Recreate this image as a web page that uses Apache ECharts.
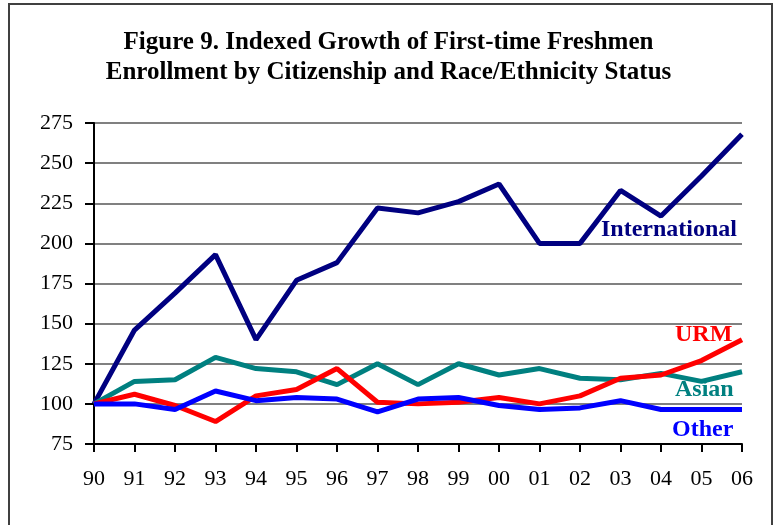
<!DOCTYPE html>
<html>
<head>
<meta charset="utf-8">
<script src="https://cdn.jsdelivr.net/npm/echarts@6/dist/echarts.min.js"></script>
<style>
  html, body { margin: 0; padding: 0; background: #fff; }
  #main { width: 777px; height: 525px; }
</style>
</head>
<body>
<div id="main"></div>
<script>
  // years, shown as two digits
  var years = ['90', '91', '92', '93', '94', '95', '96', '97', '98', '99', '00', '01', '02', '03', '04', '05', '06']
  // index values, 1990 = 100
  var international = [100, 146, 169, 193, 140, 177, 188, 222, 219, 226, 237, 200, 200, 233, 217, 242, 268]
  var asian = [100, 114, 115, 129, 122, 120, 112, 125, 112, 125, 118, 122, 116, 115, 119, 114, 120]
  var urm = [100, 106, 99, 89, 105, 109, 122, 101, 100, 101, 104, 100, 105, 116, 118, 127, 140]
  var other = [100, 100, 96.5, 108, 102, 104, 103, 95, 103, 104, 99, 96.5, 97.5, 102, 96.5, 96.5, 96.5]

  var serif = 'Liberation Serif'

  function lineSeries (name, data, color) {
    return {
      name: name,
      type: 'line',
      data: data,
      showSymbol: false,
      symbol: 'none',
      lineStyle: { color: color, width: 5 },
      itemStyle: { color: color },
      animation: false
    }
  }

  // series names written next to the lines
  function seriesLabel (text, x, y, color) {
    return {
      type: 'text',
      left: x,
      top: y,
      style: {
        text: text,
        fill: color,
        fontFamily: serif,
        fontWeight: 'bold',
        fontSize: 24
      }
    }
  }

  var chart = echarts.init(document.getElementById('main'))
  var options = {
    backgroundColor: '#fff',
    title: {
      text: 'Figure 9. Indexed Growth of First-time Freshmen\nEnrollment by Citizenship and Race/Ethnicity Status',
      left: 'center',
      top: 23,
      textStyle: {
        fontFamily: serif,
        fontWeight: 'bold',
        fontSize: 25,
        lineHeight: 30,
        color: '#000'
      }
    },
    grid: {
      left: 94,
      right: 35,
      top: 123,
      bottom: 81
    },
    xAxis: {
      type: 'category',
      data: years,
      boundaryGap: false,
      axisLine: { lineStyle: { color: '#000', width: 2 } },
      axisTick: { show: true, length: 8, lineStyle: { color: '#000', width: 2 } },
      axisLabel: {
        margin: 24,
        fontFamily: serif,
        fontSize: 22,
        color: '#000'
      },
      splitLine: { show: false }
    },
    yAxis: {
      type: 'value',
      min: 75,
      max: 275,
      interval: 25,
      axisLine: { show: true, lineStyle: { color: '#000', width: 2 } },
      axisTick: { show: true, length: 9, lineStyle: { color: '#000', width: 2 } },
      axisLabel: {
        margin: 21,
        fontFamily: serif,
        fontSize: 22,
        color: '#000'
      },
      splitLine: { show: true, lineStyle: { color: '#808080', width: 2 } }
    },
    series: [
      lineSeries('International', international, '#000080'),
      lineSeries('Asian', asian, '#008080'),
      lineSeries('URM', urm, '#ff0000'),
      lineSeries('Other', other, '#0000ff')
    ],
    graphic: [
      {
        type: 'rect',
        shape: { x: 9, y: 4, width: 763, height: 530 },
        style: { fill: 'none', stroke: '#404040', lineWidth: 2 },
        silent: true
      },
      seriesLabel('International', 601, 218, '#000080'),
      seriesLabel('URM', 675, 323, '#ff0000'),
      seriesLabel('Asian', 675, 378, '#008080'),
      seriesLabel('Other', 672, 418, '#0000ff')
    ]
  }
  chart.setOption(options)
</script>
</body>
</html>
